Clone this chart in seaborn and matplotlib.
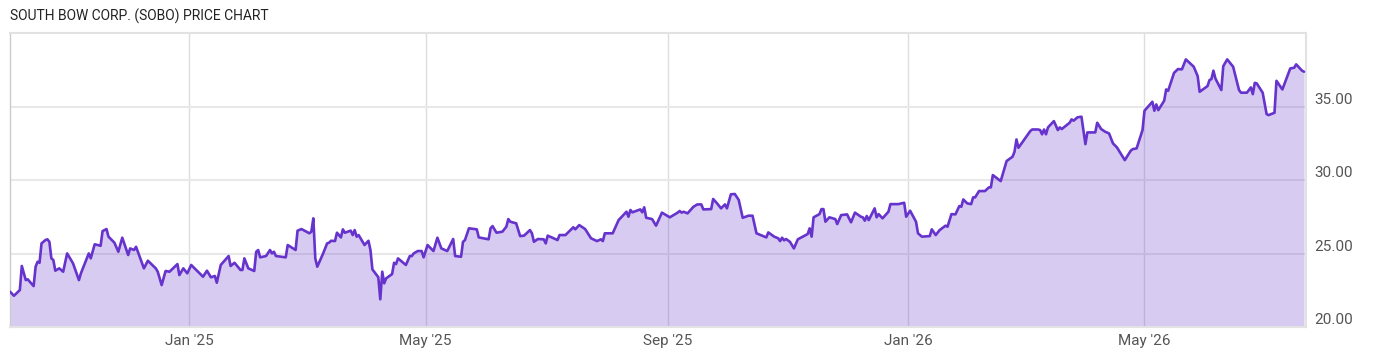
import numpy as np
import pandas as pd
import matplotlib
matplotlib.use("Agg")
import matplotlib.pyplot as plt
import matplotlib.dates as mdates
from matplotlib.ticker import FuncFormatter
import seaborn as sns

# -----------------------------
# Data
# days counted from the first trading day, 2024-10-02
# -----------------------------
start_date = "2024-10-02"

days = [
    0, 2, 5, 6, 8, 9, 12, 13, 14, 15, 16, 18, 19, 20, 21, 22, 23, 25, 27, 29,
    32, 35, 36, 40, 41, 43, 46, 47, 49, 50, 53, 55, 57, 60, 61, 63, 64, 68, 70, 74,
    75, 77, 79, 81, 85, 86, 88, 90, 92, 96, 98, 100, 102, 104, 105, 107, 111, 112, 114, 117,
    118, 119, 121, 124, 125, 126, 127, 130, 132, 133, 134, 135, 140, 141, 145, 146, 148, 152, 153, 154,
    155, 156, 159, 161, 162, 163, 165, 166, 168, 169, 170, 173, 174, 175, 176, 177, 180, 182, 183, 184,
    187, 188, 189, 190, 191, 194, 195, 196, 197, 201, 203, 204, 205, 207, 209, 210, 212, 215, 217, 219,
    222, 225, 226, 229, 230, 231, 233, 237, 238, 243, 244, 245, 247, 250, 252, 253, 254, 257, 259, 261,
    264, 265, 266, 268, 271, 272, 273, 278, 279, 282, 286, 287, 289, 292, 295, 298, 300, 301, 302, 306,
    309, 313, 314, 315, 316, 320, 321, 322, 323, 326, 328, 331, 335, 339, 340, 341, 342, 344, 347, 349,
    351, 352, 356, 357, 359, 361, 363, 364, 366, 368, 370, 372, 375, 377, 379, 383, 384, 385, 388, 390,
    391, 392, 393, 394, 396, 398, 400, 405, 406, 407, 408, 411, 412, 413, 414, 416, 419, 420, 422, 425,
    427, 429, 432, 433, 434, 435, 436, 439, 440, 441, 443, 446, 447, 451, 454, 455, 457, 460, 461, 463,
    467, 468, 470, 472, 475, 476, 478, 480, 482, 483, 484, 486, 488, 489, 490, 492, 495, 497, 498, 499,
    503, 506, 509, 510, 511, 512, 518, 519, 522, 523, 524, 525, 526, 527, 530, 532, 533, 534, 538, 539,
    540, 542, 544, 546, 547, 551, 552, 554, 556, 558, 560, 562, 566, 569, 570, 572, 575, 576, 580, 581,
    582, 583, 586, 587, 588, 591, 593, 595, 597, 601, 603, 604, 608, 609, 610, 611, 612, 615, 616, 618,
    621, 624, 625, 628, 630, 631, 632, 633, 636, 638, 639, 642, 643, 646, 650, 652, 653, 656, 657,
]

price = [
    22.41, 22.13, 22.52, 24.16, 23.20, 23.25, 22.79, 24.11, 24.45, 24.38, 25.70, 25.93, 25.98, 25.81, 24.68, 24.57, 23.84, 24.00, 23.77, 25.02,
    24.34, 23.20, 23.66, 25.02, 24.68, 25.64, 25.54, 26.54, 26.68, 26.16, 25.75, 25.13, 26.09, 24.91, 25.36, 25.25, 25.47, 24.00, 24.52, 24.00,
    23.77, 22.86, 23.82, 23.77, 24.29, 23.54, 24.00, 23.66, 24.23, 23.70, 23.43, 23.84, 23.39, 23.48, 23.02, 24.23, 24.84, 24.16, 24.38, 23.89,
    23.89, 24.68, 24.00, 23.82, 25.13, 25.25, 24.75, 24.84, 25.25, 25.02, 25.13, 24.84, 24.75, 25.59, 25.25, 26.57, 26.68, 26.39, 26.50, 27.41,
    24.68, 24.11, 25.02, 25.70, 25.75, 25.88, 25.86, 26.43, 26.11, 26.66, 26.43, 26.57, 26.27, 26.61, 26.16, 26.27, 25.59, 25.88, 25.25, 23.93,
    23.39, 21.89, 23.77, 22.98, 23.32, 23.61, 24.38, 24.29, 24.68, 24.23, 24.84, 24.84, 25.02, 25.18, 25.18, 24.75, 25.59, 25.18, 26.09, 25.36,
    25.18, 26.00, 24.84, 24.79, 25.81, 25.93, 26.73, 26.66, 26.11, 25.98, 26.73, 26.88, 26.43, 26.50, 26.84, 27.36, 27.18, 27.07, 26.20, 26.23,
    26.61, 26.39, 25.81, 26.00, 25.98, 25.70, 26.23, 25.93, 26.27, 26.27, 26.80, 26.66, 26.95, 26.68, 26.05, 25.86, 25.98, 25.86, 26.39, 26.39,
    27.29, 27.86, 27.52, 27.98, 27.82, 28.02, 27.82, 28.16, 27.45, 27.36, 26.91, 27.80, 27.48, 27.80, 27.91, 27.80, 27.86, 27.75, 28.20, 28.36,
    28.36, 28.02, 28.04, 28.73, 28.43, 28.09, 28.36, 28.09, 29.05, 29.07, 28.66, 27.45, 27.59, 27.59, 26.39, 26.16, 26.11, 26.45, 26.16, 26.05,
    25.86, 26.09, 25.91, 26.00, 25.81, 25.36, 25.98, 26.34, 26.73, 26.16, 27.48, 27.70, 28.04, 28.04, 27.18, 27.48, 27.36, 27.02, 27.63, 27.68,
    27.14, 27.80, 27.52, 27.48, 27.25, 27.57, 27.29, 28.09, 27.48, 27.70, 27.41, 27.86, 28.38, 28.38, 28.47, 27.52, 27.93, 27.18, 26.39, 26.16,
    26.20, 26.66, 26.27, 26.61, 26.91, 26.84, 27.70, 27.68, 28.25, 28.20, 28.70, 28.43, 28.38, 28.84, 28.84, 29.27, 29.27, 29.52, 29.52, 30.36,
    29.95, 31.32, 31.61, 31.95, 32.79, 32.22, 33.36, 33.47, 33.47, 33.43, 33.14, 33.47, 33.14, 33.61, 34.04, 33.43, 33.61, 33.50, 33.93, 34.16,
    34.07, 34.30, 34.34, 32.47, 33.27, 33.27, 33.93, 33.50, 33.32, 33.20, 32.52, 32.25, 31.38, 32.02, 32.13, 32.18, 33.43, 34.75, 35.36, 34.75,
    35.18, 34.79, 35.43, 36.20, 36.11, 37.33, 37.59, 37.57, 38.25, 37.75, 37.11, 36.04, 36.43, 36.84, 36.91, 37.48, 36.95, 36.16, 37.79, 38.25,
    37.75, 36.16, 35.98, 35.98, 36.34, 35.88, 36.65, 36.61, 35.98, 34.52, 34.45, 34.61, 36.79, 36.20, 37.63, 37.68, 37.91, 37.48, 37.41,
]

x_start = "2024-10-02"
x_end = "2026-07-22"
y_ticks = [20, 25, 30, 35]

title = "SOUTH BOW CORP. (SOBO) PRICE CHART"

line_color = "#6633cc"

dates = pd.Timestamp(start_date) + pd.to_timedelta(days, unit="D")
df = pd.DataFrame({"date": dates, "price": price})

# -----------------------------
# Plot
# -----------------------------
sns.set_style("white")
plt.rcParams["font.family"] = ["Roboto", "DejaVu Sans"]

fig = plt.figure(figsize=(14, 3.57), dpi=100)
ax = fig.add_axes([10 / 1400, 1 - 327 / 357, 1296 / 1400, 294 / 357])

ax.fill_between(df["date"], df["price"], 20, color=line_color, alpha=0.25,
                linewidth=0, zorder=2)
sns.lineplot(data=df, x="date", y="price", ax=ax, color=line_color,
             linewidth=1.9, zorder=3)

ax.set_xlim(pd.Timestamp(x_start), pd.Timestamp(x_end))
ax.set_ylim(20, 40.05)

ax.xaxis.set_major_locator(mdates.MonthLocator(bymonth=[1, 5, 9]))
ax.xaxis.set_major_formatter(mdates.DateFormatter("%b '%y"))
ax.set_yticks(y_ticks)
ax.yaxis.set_major_formatter(FuncFormatter(lambda v, p: f"{v:.2f}"))

ax.yaxis.tick_right()
ax.tick_params(axis="both", length=0, labelsize=11, labelcolor="#555555")
ax.tick_params(axis="x", pad=5)
ax.tick_params(axis="y", pad=6)
for lab in ax.get_yticklabels():
    lab.set_va("bottom")

ax.grid(axis="y", color="#e8e8e8", linewidth=1.5, zorder=1)
ax.grid(axis="x", color="#dddddd", linewidth=1, zorder=1)
ax.set_axisbelow(True)

for side in ["top", "right", "bottom"]:
    ax.spines[side].set_color("#e2e2e2")
    ax.spines[side].set_linewidth(1.5)
ax.spines["left"].set_color("#cccccc")
ax.spines["left"].set_linewidth(1)

ax.set_xlabel("")
ax.set_ylabel("")

fig.text(10 / 1400, 1 - 16 / 357, title, ha="left", va="center",
         fontsize=10, color="#222222")

fig.savefig("out.png", dpi=100)
plt.close(fig)
